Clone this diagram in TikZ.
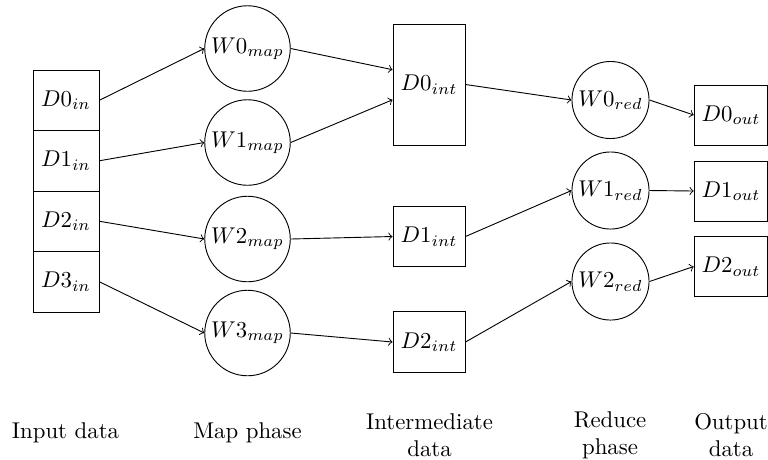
\documentclass[tikz,border=0pt]{standalone}
\begin{document}
\begin{tikzpicture}[x=0.01541cm,y=-0.01541cm,>=to,
  box/.style={draw,rectangle,inner sep=0pt},
  inbox/.style={box,minimum width=28.9pt,minimum height=26.5pt},
  intbox/.style={box,minimum width=31.6pt,minimum height=26.6pt},
  outbox/.style={box,minimum width=32.3pt,minimum height=26.3pt},
  mapw/.style={draw,circle,inner sep=0pt,minimum size=37.5pt},
  redw/.style={draw,circle,inner sep=0pt,minimum size=33.8pt},
  lbl/.style={align=center,inner sep=0pt},
  conn/.style={->}]
\useasboundingbox (0,0) rectangle (768,459);
% input data
\node[inbox] (Din0) at (66,100.25) {$D0_{in}$};
\node[inbox] (Din1) at (66,160.75) {$D1_{in}$};
\node[inbox] (Din2) at (66,221.25) {$D2_{in}$};
\node[inbox] (Din3) at (66,281.75) {$D3_{in}$};
% map workers
\node[mapw] (Wm0) at (247.5,48.5) {$W0_{map}$};
\node[mapw] (Wm1) at (247.5,142.5) {$W1_{map}$};
\node[mapw] (Wm2) at (247.5,239) {$W2_{map}$};
\node[mapw] (Wm3) at (247.5,333) {$W3_{map}$};
% intermediate data
\node[box,minimum width=31.6pt,minimum height=53.1pt] (Dint0) at (429,84.5) {$D0_{int}$};
\node[intbox] (Dint1) at (429,236.5) {$D1_{int}$};
\node[intbox] (Dint2) at (429,342) {$D2_{int}$};
% reduce workers
\node[redw] (Wr0) at (610.5,100) {$W0_{red}$};
\node[redw] (Wr1) at (610.5,190.5) {$W1_{red}$};
\node[redw] (Wr2) at (610.5,281.5) {$W2_{red}$};
% output data
\node[outbox] (Dout0) at (731,115) {$D0_{out}$};
\node[outbox] (Dout1) at (731,191) {$D1_{out}$};
\node[outbox] (Dout2) at (731,266.5) {$D2_{out}$};
% connectors
\draw[conn] (Din0.east) -- (Wm0.west);
\draw[conn] (Din1.east) -- (Wm1.west);
\draw[conn] (Din2.east) -- (Wm2.west);
\draw[conn] (Din3.east) -- (Wm3.west);
\draw[conn] (Wm0.east) -- ([yshift=6.5pt]Dint0.west);
\draw[conn] (Wm1.east) -- ([yshift=-6.7pt]Dint0.west);
\draw[conn] (Wm2.east) -- (Dint1.west);
\draw[conn] (Wm3.east) -- (Dint2.west);
\draw[conn] (Dint0.east) -- (Wr0.west);
\draw[conn] (Dint1.east) -- (Wr1.west);
\draw[conn] (Dint2.east) -- (Wr2.west);
\draw[conn] (Wr0.east) -- (Dout0.west);
\draw[conn] (Wr1.east) -- (Dout1.west);
\draw[conn] (Wr2.east) -- (Dout2.west);
% phase labels
\node[lbl] (Linput) at (65.5,433) {Input data};
\node[lbl] (Lmap) at (247.5,433) {Map phase};
\node[lbl] (Lint) at (429.5,435) {Intermediate\\data};
\node[lbl] (Lred) at (610,435) {Reduce\\phase};
\node[lbl] (Lout) at (731,435) {Output\\data};
\end{tikzpicture}
\end{document}
